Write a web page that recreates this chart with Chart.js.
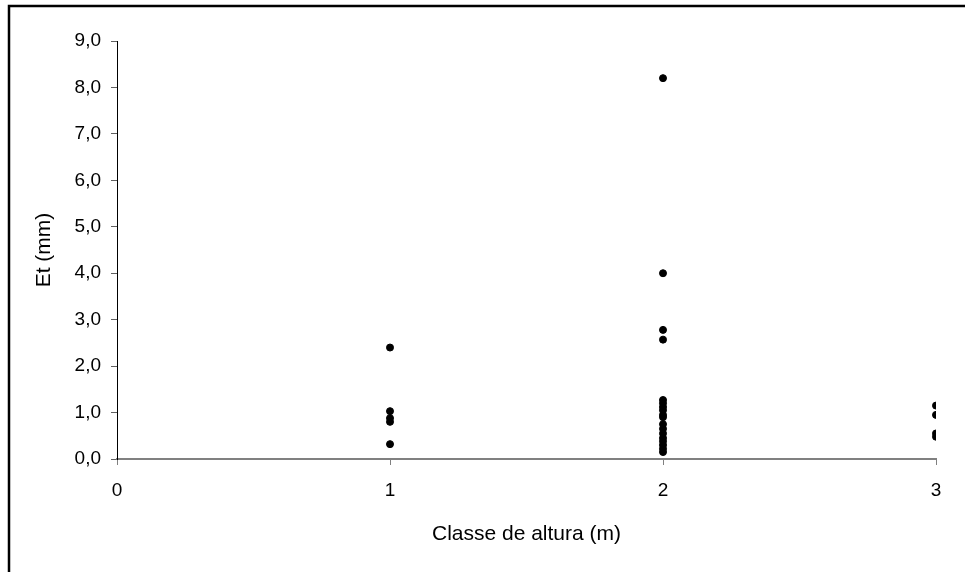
<!DOCTYPE html>
<html>
<head>
<meta charset="utf-8">
<script src="https://cdn.jsdelivr.net/npm/chart.js@4/dist/chart.umd.min.js"></script>
<style>
  html, body { margin: 0; padding: 0; background: #fff; }
  #wrap { width: 965px; height: 572px; position: relative; }
</style>
</head>
<body>
<div id="wrap"><canvas id="myChart" width="965" height="572"></canvas></div>
<script>
'use strict';

// height classes on the x axis
var classes = [1, 2, 3];

// Et (mm) per class
var et1 = [2.4, 1.03, 0.88, 0.8, 0.32];
var et2 = [8.2, 4.0, 2.78, 2.57, 1.27, 1.2, 1.12, 1.05, 0.95, 0.9, 0.75, 0.65, 0.55, 0.45, 0.38, 0.3, 0.22, 0.15];
var et3 = [1.15, 0.95, 0.55, 0.48];

var xTicks = [0, 1, 2, 3];
var yTicks = [0, 1, 2, 3, 4, 5, 6, 7, 8, 9];

var points = [];
[et1, et2, et3].forEach(function(vals, i) {
  vals.forEach(function(v) {
    points.push({ x: classes[i], y: v });
  });
});

// outer border, only top and left are visible in the picture
var frame = {
  id: 'frame',
  afterDraw: function(chart) {
    var c = chart.ctx;
    c.save();
    c.strokeStyle = '#000';
    c.lineWidth = 2.5;
    c.beginPath();
    c.moveTo(9, 572);
    c.lineTo(9, 6);
    c.lineTo(965, 6);
    c.stroke();
    c.restore();
  }
};

var font = { family: "'Liberation Sans', Arial, sans-serif", size: 19 };
var titleFont = { family: "'Liberation Sans', Arial, sans-serif", size: 21 };

var myChart = new Chart(document.getElementById('myChart'), {
  type: 'scatter',
  data: {
    datasets: [{
      label: 'Et',
      data: points,
      backgroundColor: '#000',
      borderColor: '#000',
      pointRadius: 3.5,
      pointHoverRadius: 3.5
    }]
  },
  options: {
    responsive: false,
    animation: false,
    layout: { padding: { left: 0, right: 29, top: 41, bottom: 0 } },
    plugins: {
      legend: { display: false },
      tooltip: { enabled: false }
    },
    scales: {
      x: {
        type: 'linear',
        min: 0,
        max: 3,
        afterBuildTicks: function(scale) {
          scale.ticks = xTicks.map(function(v) { return { value: v }; });
        },
        afterFit: function(scale) { scale.height = 113; },
        grid: { display: true, drawOnChartArea: false, color: '#808080', tickLength: 6, lineWidth: 1 },
        border: { display: true, color: '#808080', width: 2 },
        ticks: { color: '#000', font: font, padding: 14, maxRotation: 0 },
        title: {
          display: true,
          text: 'Classe de altura (m)',
          color: '#000',
          font: titleFont,
          padding: { top: 0, bottom: 25 }
        }
      },
      y: {
        type: 'linear',
        min: 0,
        max: 9,
        afterBuildTicks: function(scale) {
          scale.ticks = yTicks.map(function(v) { return { value: v }; });
        },
        afterFit: function(scale) { scale.width = 117; },
        grid: { display: true, drawOnChartArea: false, color: '#606060', tickLength: 6, lineWidth: 1 },
        border: { display: true, color: '#000', width: 1 },
        ticks: {
          color: '#000',
          font: font,
          padding: 10,
          callback: function(v) { return v.toFixed(1).replace('.', ','); }
        },
        title: {
          display: true,
          text: 'Et (mm)',
          color: '#000',
          font: titleFont,
          padding: { top: 32, bottom: 0 }
        }
      }
    }
  },
  plugins: [frame]
});
</script>
</body>
</html>
